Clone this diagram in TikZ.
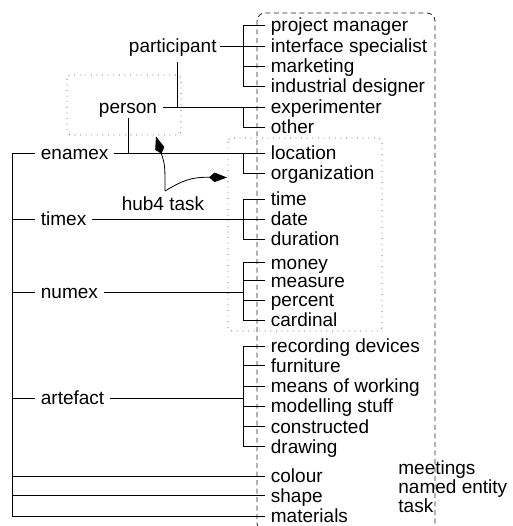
\documentclass[tikz,border=0pt]{standalone}
\usepackage{fontspec}
\setmainfont{Liberation Sans}
\usetikzlibrary{arrows.meta}

\begin{document}
\begin{tikzpicture}[x=1pt,y=-1pt,line width=0.8pt,
  txt/.style={font=\fontsize{19}{16}\selectfont, inner xsep=5.5pt, inner ysep=2pt,
              text height=13pt, text depth=0pt},
  leaf/.style={txt, anchor=west},
  cat/.style={txt, anchor=west},
  dashbox/.style={draw=black!85, line width=0.8pt, dash pattern=on 5pt off 3.5pt, rounded corners=8pt},
  dotbox/.style={draw=black!70, line width=0.8pt, dash pattern=on 0.8pt off 4.8pt, rounded corners=4pt},
  hubarrow/.style={-{Kite[length=18pt,width=9.5pt,inset=5.5pt]}, line width=0.8pt}]
\useasboundingbox (0,0) rectangle (512,526);

% grouping boxes
\draw[dashbox] (257,13) rectangle (435,531);
\draw[dotbox] (67,75) rectangle (181,135);
\draw[dotbox] (228,138) rectangle (382,331);

% bracket columns
\coordinate (bx) at (243,0);
\coordinate (lx) at (12,0);

% leaves
\node[leaf] (pm)   at (265,25.5)  {project manager};
\node[leaf] (is)   at (265,46)    {interface specialist};
\node[leaf] (mk)   at (265,66)    {marketing};
\node[leaf] (ind)  at (265,86.5)  {industrial designer};
\node[leaf] (exp)  at (265,107)   {experimenter};
\node[leaf] (oth)  at (265,127)   {other};
\node[leaf] (loc)  at (265,153)   {location};
\node[leaf] (org)  at (265,173)   {organization};
\node[leaf] (tim)  at (265,199)   {time};
\node[leaf] (dat)  at (265,219)   {date};
\node[leaf] (dur)  at (265,239)   {duration};
\node[leaf] (mon)  at (265,262.5) {money};
\node[leaf] (meas) at (265,280.5) {measure};
\node[leaf] (perc) at (265,300)   {percent};
\node[leaf] (card) at (265,320)   {cardinal};
\node[leaf] (rec)  at (265,346)   {recording devices};
\node[leaf] (furn) at (265,365.5) {furniture};
\node[leaf] (mow)  at (265,386)   {means of working};
\node[leaf] (mod)  at (265,406)   {modelling stuff};
\node[leaf] (cons) at (265,426.5) {constructed};
\node[leaf] (drw)  at (265,446.5) {drawing};
\node[leaf] (col)  at (265,476)   {colour};
\node[leaf] (shp)  at (265,495.5) {shape};
\node[leaf] (mat)  at (265,516)   {materials};

% categories
\node[txt, anchor=east, inner xsep=3pt] (participant) at (220,46) {participant};
\node[txt, inner ysep=4pt] (person) at (128,107) {person};
\node[cat] (enamex)   at (35,153) {enamex};
\node[cat] (timex)    at (35,219) {timex};
\node[cat] (numex)    at (35,292) {numex};
\node[cat] (artefact) at (35,398) {artefact};

\node[txt] (hub) at (163,204.5) {hub4 task};
\node[font=\fontsize{19}{16}\selectfont, align=left, anchor=north west, inner sep=0pt]
  (mnet) at (398,460.5) {meetings\\named entity\\task};

% participant
\draw (pm.west) -- (pm.west -| bx) -- (ind.west -| bx) -- (ind.west);
\draw (mk.west) -- (mk.west -| bx);
\draw (participant.east) -- (is.west);
% person
\draw (exp.west -| bx) -- (oth.west -| bx) -- (oth.west);
\draw (person.east) -- (exp.west);
\coordinate (pv) at (177,62);
\draw (pv) -- (pv |- person.east);
\draw (person.south) -- (person.south |- enamex.east);
% enamex
\draw (loc.west -| bx) -- (org.west -| bx) -- (org.west);
\draw (enamex.east) -- (loc.west);
% timex
\draw (tim.west) -- (tim.west -| bx) -- (dur.west -| bx) -- (dur.west);
\draw (timex.east) -- (dat.west);
% numex
\draw (mon.west) -- (mon.west -| bx) -- (card.west -| bx) -- (card.west);
\draw (meas.west) -- (meas.west -| bx);
\draw (perc.west) -- (perc.west -| bx);
\draw (numex.east) -- (numex.east -| bx);
% artefact
\draw (rec.west) -- (rec.west -| bx) -- (drw.west -| bx) -- (drw.west);
\draw (furn.west) -- (furn.west -| bx);
\draw (mow.west) -- (mow.west -| bx);
\draw (mod.west) -- (mod.west -| bx);
\draw (cons.west) -- (cons.west -| bx);
\draw (artefact.east) -- (artefact.east -| bx);
% left spine
\draw (enamex.west) -- (enamex.west -| lx) -- (mat.west -| lx) -- (mat.west);
\draw (timex.west) -- (timex.west -| lx);
\draw (numex.west) -- (numex.west -| lx);
\draw (artefact.west) -- (artefact.west -| lx);
\draw (col.west -| lx) -- (col.west);
\draw (shp.west -| lx) -- (shp.west);

% hub4 task pointers
\coordinate (ho) at (165,191);
\coordinate (t1) at (156,136.5);
\coordinate (t2) at (227,177.5);
\draw[hubarrow] (ho) .. controls (165,165) .. (t1);
\draw[hubarrow] (ho) .. controls (182,181) and (190,177) .. (t2);
\end{tikzpicture}
\end{document}
